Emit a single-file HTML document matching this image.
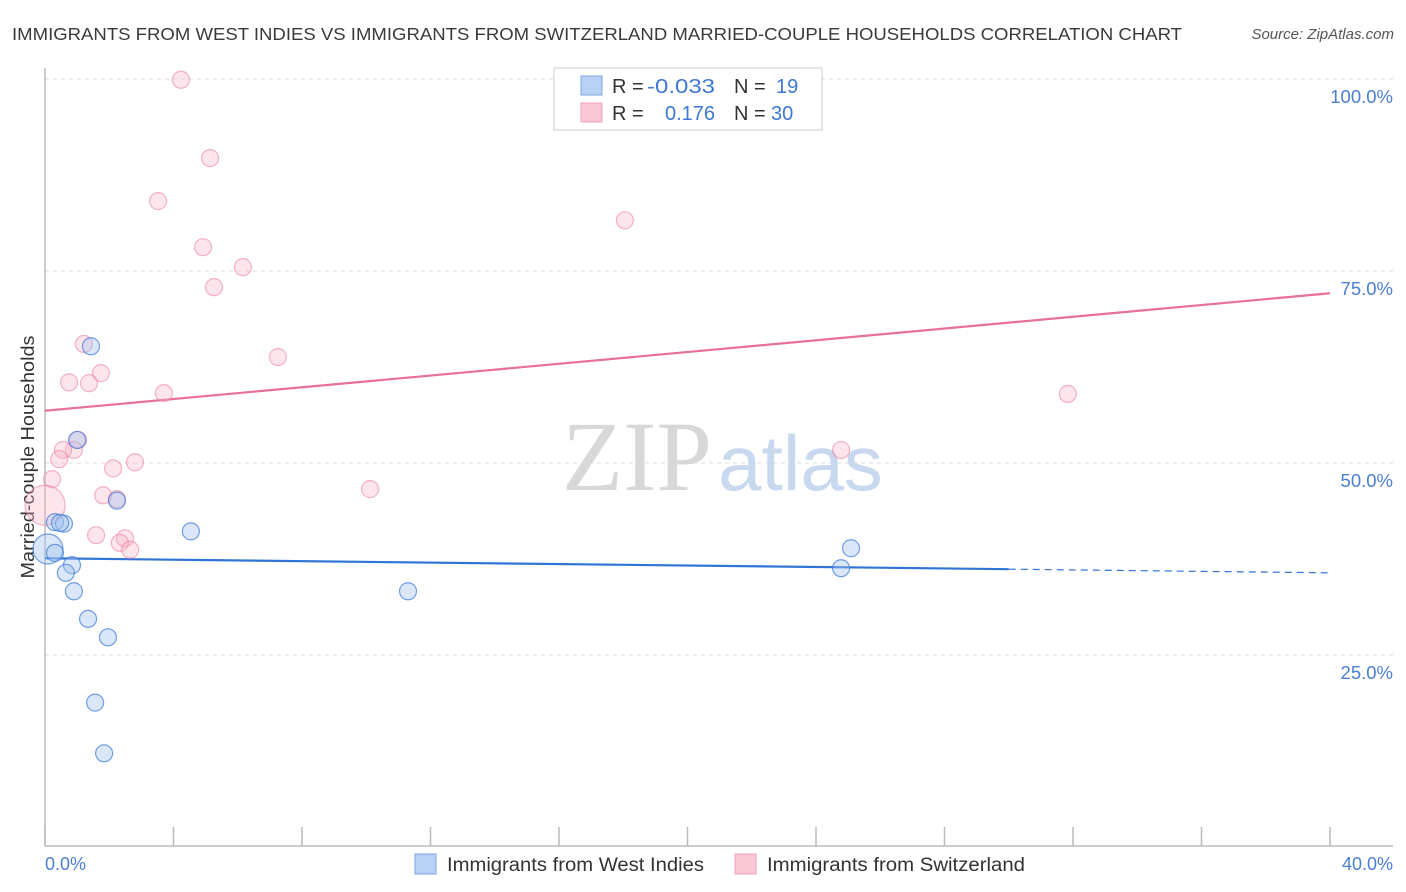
<!DOCTYPE html>
<html><head><meta charset="utf-8"><style>
body{margin:0;background:#fff;font-family:"Liberation Sans",sans-serif;}
svg{display:block}
</style></head><body>
<svg width="1406" height="892" viewBox="0 0 1406 892">
<text x="12" y="40" font-size="17.5" fill="#3a3a3a" textLength="1170" lengthAdjust="spacingAndGlyphs">IMMIGRANTS FROM WEST INDIES VS IMMIGRANTS FROM SWITZERLAND MARRIED-COUPLE HOUSEHOLDS CORRELATION CHART</text>
<text x="1394" y="39" font-size="15" fill="#555" text-anchor="end" font-style="italic">Source: ZipAtlas.com</text>
<g id="grid"></g>
<text x="712" y="490" font-size="100" fill="#d8d8d8" text-anchor="end" font-family="Liberation Serif,serif">ZIP</text>
<text x="718" y="490" font-size="78" fill="#c8d8ef">atlas</text>
<line x1="45" y1="68" x2="45" y2="846" stroke="#bbb" stroke-width="1.5"/>
<line x1="45" y1="846" x2="1393" y2="846" stroke="#bbb" stroke-width="1.5"/>
<g id="ticks"></g>
<text transform="translate(34,457) rotate(-90)" font-size="18" fill="#333" text-anchor="middle" textLength="243" lengthAdjust="spacingAndGlyphs">Married-couple Households</text>
<text x="45" y="870" font-size="18" fill="#4a7fd4">0.0%</text>
<text x="1393" y="870" font-size="18" fill="#4a7fd4" text-anchor="end">40.0%</text>
<g id="lines"></g>
<g id="points"></g>
<g>
<rect x="554" y="68" width="268" height="62" fill="#fff" stroke="#ccc"/>
<rect x="581" y="76" width="21" height="19" fill="#b9d1f5" stroke="#7aa5e6"/>
<rect x="581" y="103" width="21" height="19" fill="#fac9d7" stroke="#f0a0b8"/>
<text x="612" y="93" font-size="20" fill="#333">R = </text><text x="647" y="93" font-size="20" fill="#3e78d4" textLength="68" lengthAdjust="spacingAndGlyphs">-0.033</text>
<text x="734" y="93" font-size="20" fill="#333">N = </text><text x="776" y="93" font-size="20" fill="#3e78d4">19</text>
<text x="612" y="120" font-size="20" fill="#333">R = </text><text x="665" y="120" font-size="20" fill="#3e78d4" textLength="50" lengthAdjust="spacingAndGlyphs">0.176</text>
<text x="734" y="120" font-size="20" fill="#333">N = </text><text x="771" y="120" font-size="20" fill="#3e78d4">30</text>
</g>
<g>
<rect x="415" y="854" width="21" height="20" fill="#b9d1f5" stroke="#7aa5e6"/>
<text x="447" y="871" font-size="19" fill="#333" textLength="257" lengthAdjust="spacingAndGlyphs">Immigrants from West Indies</text></g>
<g>
<rect x="735" y="854" width="21" height="20" fill="#fac9d7" stroke="#f0a0b8"/>
<text x="767" y="871" font-size="19" fill="#333" textLength="258" lengthAdjust="spacingAndGlyphs">Immigrants from Switzerland</text></g>
</svg>
<script>
const yTicks=[25,50,75,100];
const yTickLabels=["25.0%","50.0%","75.0%","100.0%"];
const xTicks=[0,4,8,12,16,20,24,28,32,36,40];
const blueX=[1.43,0.31,0.59,0.09,0.31,0.84,0.65,0.90,1.34,1.96,1.56,1.84,2.24,1.00,4.54,11.30,25.09,24.78,0.47];
const blueY=[65.2,42.3,42.1,38.8,38.3,36.7,35.7,33.3,29.7,27.3,18.8,12.2,45.1,53.0,41.1,33.3,38.9,36.3,42.2];
const blueR=[8.5,8.5,8.5,15,8.5,8.5,8.5,8.5,8.5,8.5,8.5,8.5,8.5,8.5,8.5,8.5,8.5,8.5,8.5];
const pinkX=[4.23,5.14,3.52,4.92,6.16,5.26,18.05,1.21,7.25,0.75,1.74,1.37,3.70,31.84,1.03,0.90,0.56,0.44,2.80,2.12,0.22,10.12,1.81,2.24,24.78,1.59,2.49,2.33,2.65,0.0];
const pinkY=[99.9,89.7,84.1,78.1,75.5,72.9,81.6,65.5,63.8,60.5,61.7,60.4,59.1,59.0,53.0,51.7,51.7,50.5,50.1,49.3,47.9,46.6,45.8,45.3,51.7,40.6,40.2,39.6,38.7,44.5];
const pinkR=[8.5,8.5,8.5,8.5,8.5,8.5,8.5,8.5,8.5,8.5,8.5,8.5,8.5,8.5,8.5,8.5,8.5,8.5,8.5,8.5,8.5,8.5,8.5,8.5,8.5,8.5,8.5,8.5,8.5,20];
const blueTrend=[37.6,35.7];
const pinkTrend=[56.8,72.1];
const blueSolidEnd=30;
const NS="http://www.w3.org/2000/svg";
const sx=v=>45+v*32.125, sy=v=>847-v*7.68;
function mk(t,a,p){const e=document.createElementNS(NS,t);for(const k in a)e.setAttribute(k,a[k]);p.appendChild(e);return e;}
const grid=document.getElementById('grid');
yTicks.forEach((t,i)=>{
 const l=mk('line',{x1:45,x2:1393,y1:sy(t),y2:sy(t),stroke:'#ddd','stroke-dasharray':'4,4'},grid);
 
 
 const tx=mk('text',{x:1393,y:sy(t)+24,'font-size':18.5,fill:'#4a7fd4','text-anchor':'end'},grid);
 tx.textContent=yTickLabels[i];
 
 
});
const tk=document.getElementById('ticks');
xTicks.forEach(t=>{
 const l=mk('line',{x1:sx(t),x2:sx(t),y1:827,y2:846,stroke:'#bbb','stroke-width':1.5},tk);
 
 
});
const ln=document.getElementById('lines');
const bt=x=>blueTrend[0]+(blueTrend[1]-blueTrend[0])*x/40;
let l1=mk('line',{x1:sx(0),y1:sy(pinkTrend[0]),x2:sx(40),y2:sy(pinkTrend[1]),stroke:'#e8709a','stroke-width':2.2},ln);


let l2=mk('line',{x1:sx(0),y1:sy(bt(0)),x2:sx(blueSolidEnd),y2:sy(bt(blueSolidEnd)),stroke:'#2f74d6','stroke-width':2.2},ln);


let l3=mk('line',{x1:sx(blueSolidEnd),y1:sy(bt(blueSolidEnd)),x2:sx(40),y2:sy(bt(40)),stroke:'#2f74d6','stroke-width':1.2,'stroke-dasharray':'7,5'},ln);


const pts=document.getElementById('points');
pinkX.forEach((x,i)=>{
 const c=mk('circle',{cx:sx(x),cy:sy(pinkY[i]),r:pinkR[i],fill:'rgba(248,180,200,0.35)',stroke:'rgba(232,120,155,0.55)','stroke-width':1.2},pts);
 
 
});
blueX.forEach((x,i)=>{
 const c=mk('circle',{cx:sx(x),cy:sy(blueY[i]),r:blueR[i],fill:'rgba(160,195,240,0.4)',stroke:'rgba(60,120,215,0.7)','stroke-width':1.2},pts);
 
 
});
</script>
</body></html>
